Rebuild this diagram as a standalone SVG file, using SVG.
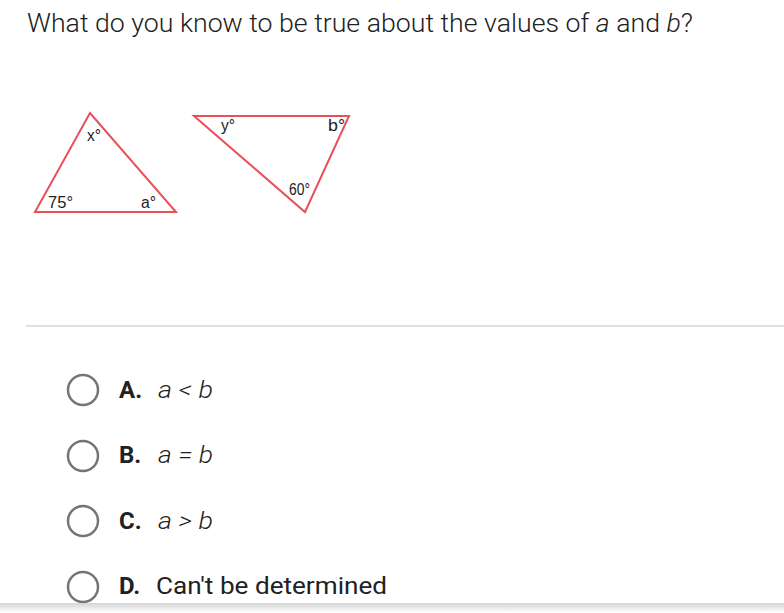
<svg xmlns="http://www.w3.org/2000/svg" width="784" height="613" viewBox="0 0 784 613">
<style>
.q{font-family:Roboto,"Liberation Sans",sans-serif;font-size:26px;fill:#212121;font-weight:300}
.opt{font-family:Roboto,"Liberation Sans",sans-serif;font-size:24px;fill:#212121}
.lbl{font-weight:700}
.it{font-style:italic;font-weight:300}
.tri{fill:none;stroke:#e8505b;stroke-width:2}
.deg{font-family:"Liberation Sans",Arial,sans-serif;font-size:16px;fill:#222}
.radio{fill:none;stroke:#757575;stroke-width:2.5}
</style>
<defs>
<linearGradient id="fade" x1="0" y1="0" x2="0" y2="1">
<stop offset="0" stop-color="#d6d6d6"/>
<stop offset="1" stop-color="#ffffff"/>
</linearGradient>
</defs>
<rect width="784" height="613" fill="#fff"/>
<text class="q" x="27" y="32" textLength="666" lengthAdjust="spacingAndGlyphs">What do you know to be true about the values of <tspan font-style="italic">a</tspan> and <tspan font-style="italic">b</tspan>?</text>
<g id="triangle1">
<polygon class="tri" points="90,113 35,212 176,212"/>
<text class="deg" x="87" y="141" textLength="14" lengthAdjust="spacingAndGlyphs">x°</text>
<text class="deg" x="48" y="208" textLength="25" lengthAdjust="spacingAndGlyphs">75°</text>
<text class="deg" x="141" y="208" textLength="15" lengthAdjust="spacingAndGlyphs">a°</text>
</g>
<g id="triangle2">
<polygon class="tri" points="194,116 349,116 305,212"/>
<text class="deg" x="221" y="131" textLength="14" lengthAdjust="spacingAndGlyphs">y°</text>
<text class="deg" x="328" y="131" textLength="17" lengthAdjust="spacingAndGlyphs">b°</text>
<text class="deg" x="289" y="195" textLength="21" lengthAdjust="spacingAndGlyphs">60°</text>
</g>
<rect x="26" y="325" width="758" height="2" fill="#e0e0e0"/>
<g id="optA">
<circle class="radio" cx="83" cy="390" r="15"/>
<text class="opt" x="119" y="398"><tspan class="lbl">A.</tspan></text>
<text class="opt it" x="158" y="398" textLength="55" lengthAdjust="spacingAndGlyphs">a &lt; b</text>
</g>
<g id="optB">
<circle class="radio" cx="83" cy="456" r="15"/>
<text class="opt" x="119" y="463"><tspan class="lbl">B.</tspan></text>
<text class="opt it" x="158" y="463" textLength="55" lengthAdjust="spacingAndGlyphs">a = b</text>
</g>
<g id="optC">
<circle class="radio" cx="83" cy="521" r="15"/>
<text class="opt" x="119" y="529"><tspan class="lbl">C.</tspan></text>
<text class="opt it" x="158" y="529" textLength="55" lengthAdjust="spacingAndGlyphs">a &gt; b</text>
</g>
<g id="optD">
<circle class="radio" cx="83" cy="587" r="15"/>
<text class="opt" x="119" y="594"><tspan class="lbl">D.</tspan></text>
<text class="opt" x="156" y="594" textLength="231" lengthAdjust="spacingAndGlyphs">Can't be determined</text>
</g>
<rect x="0" y="603" width="784" height="10" fill="url(#fade)"/>
</svg>
